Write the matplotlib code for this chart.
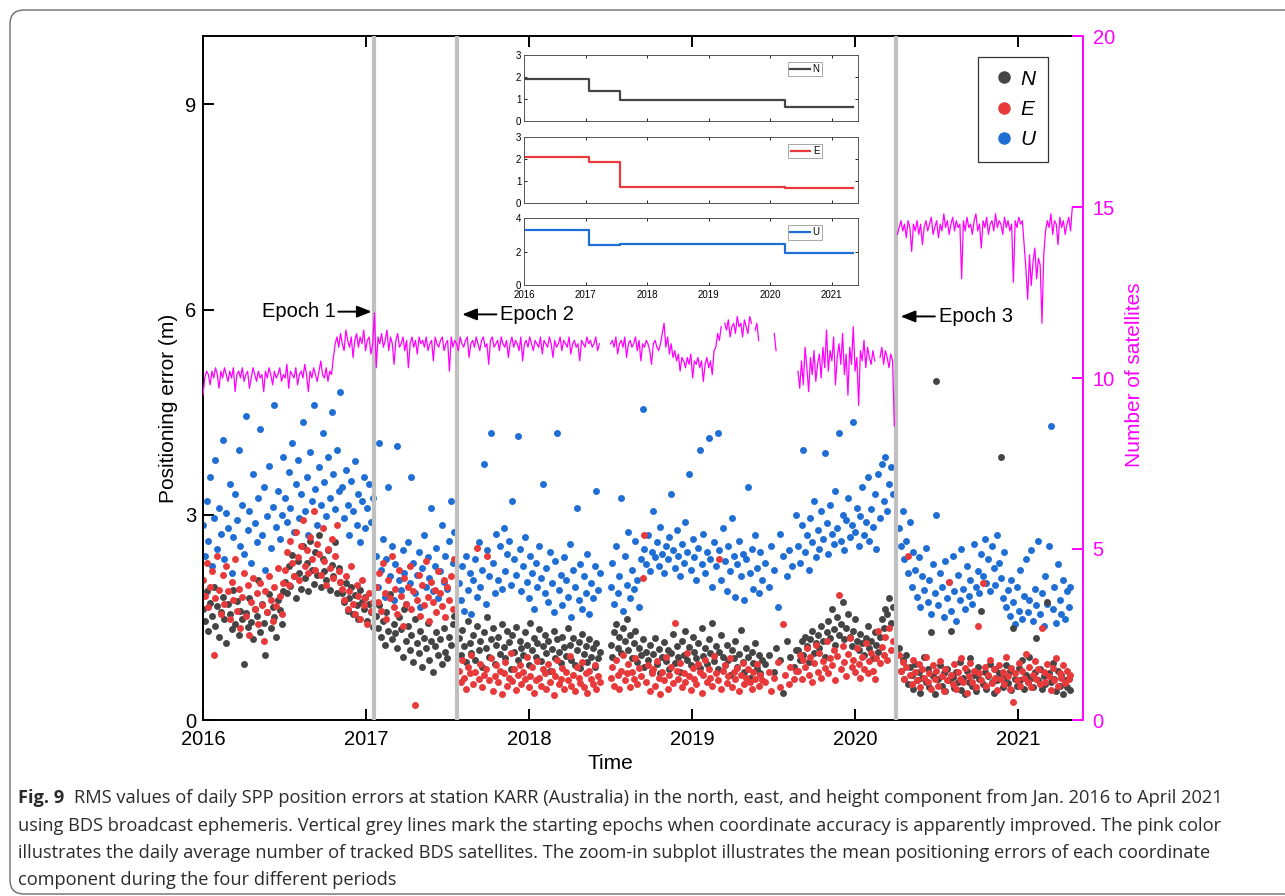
import numpy as np
import matplotlib
matplotlib.use("Agg")
import matplotlib.pyplot as plt
from matplotlib.lines import Line2D
from matplotlib.patches import FancyBboxPatch
from matplotlib.transforms import IdentityTransform

nan = np.nan
W, H = 1285, 896
STEP = 4 / 365.25  # one value every 4 days

# ---- daily RMS errors (m), one list per period ----
seg_starts = [2016.0, 2017.06, 2017.57, 2018.50, 2019.45, 2019.65, 2020.27]

n_segs = [
    [1.62, 1.45, 1.88, 1.30, 1.71, 1.52, 1.95, 1.38, 1.66, 1.21, 1.58, 1.80,
     1.47, 1.12, 1.69, 1.55, 1.33, 1.90, 1.41, 1.74, 1.25, 1.60, 1.48, 0.82,
     1.57, 1.36, 1.78, 1.44, 1.19, 1.63, 1.52, 2.05, 1.29, 1.70, 1.42, 0.95,
     1.58, 1.84, 1.35, 1.65, 1.50, 1.22, 1.76, 1.61, 1.40, 1.88,
     2.02, 1.85, 2.25, 1.96, 2.41, 2.10, 1.78, 2.33, 2.15, 1.92, 2.55, 2.08,
     2.30, 1.88, 2.62, 2.20, 1.99, 2.45, 2.12, 2.71, 1.95, 2.36, 2.18, 2.05,
     2.48, 1.90, 2.27, 2.10, 2.60, 1.86, 2.22, 2.02,
     1.85, 1.72, 2.01, 1.60, 1.79, 1.94, 1.55, 1.83, 1.68, 1.48, 1.90, 1.73,
     1.62, 1.80, 1.45, 1.70, 1.58, 1.36],
    [1.52, 1.35, 1.68, 1.22, 1.45, 1.10, 1.58, 1.30, 1.84, 1.18, 1.40, 1.27,
     1.05, 1.50, 1.33, 0.92, 1.62, 1.15, 1.38, 1.02, 1.25, 0.85, 1.47, 1.12,
     0.98, 1.30, 0.78, 1.20, 1.05, 1.42, 0.88, 1.15, 0.70, 1.08, 1.28, 0.95,
     1.18, 0.82, 1.35, 1.00, 0.90, 1.22, 1.10, 1.40, 1.52],
    [1.20, 0.95, 1.32, 1.08, 0.85, 1.45, 1.12, 0.98, 1.25, 0.88, 1.38, 1.02,
     1.15, 0.78, 1.28, 1.05, 1.50, 0.92, 1.18, 1.35, 0.82, 1.10, 1.22, 0.97,
     1.40, 1.06, 0.90, 1.30, 1.14, 0.75, 1.24, 1.00, 1.36, 0.88, 1.16, 1.05,
     0.95, 1.28, 1.10, 0.80, 1.42, 1.02, 1.20, 0.92, 1.12, 1.33, 0.86, 1.08,
     1.25, 0.98, 1.15, 0.72, 1.04, 1.30, 0.90, 1.18, 1.00, 0.84, 1.22, 1.06,
     0.94, 1.35, 1.10, 0.88, 1.20, 0.80, 1.02, 1.14, 0.76, 1.26, 0.96, 1.08,
     0.85, 1.18, 0.92, 1.05, 0.78, 1.12, 0.90, 1.00],
    [1.10, 0.92, 1.28, 1.40, 1.05, 1.22, 0.98, 1.35, 1.15, 1.48, 1.02, 1.25,
     0.90, 1.12, 1.30, 0.85, 1.05, 0.95, 1.18, 0.78, 1.00, 0.88, 1.10, 0.72,
     0.96, 1.20, 0.82, 1.04, 0.68, 0.92, 1.14, 0.86, 1.02, 0.75, 0.98, 1.26,
     0.84, 1.08, 0.92, 0.70, 1.15, 0.95, 1.30, 0.88, 1.06, 0.80, 1.22, 1.00,
     0.90, 1.12, 0.76, 1.35, 0.94, 1.05, 0.82, 1.18, 0.98, 1.42, 0.86, 1.08,
     0.74, 1.00, 1.25, 0.92, 0.80, 1.10, 0.88, 0.66, 1.02, 0.90, 1.16, 0.78,
     0.96, 1.32, 0.85, 0.70, 1.05, 0.92, 0.62, 1.00, 0.84, 1.12, 0.76, 0.95,
     0.68, 0.88],
    [0.82, nan, 0.95, nan, nan, 0.70, 1.05, nan, 0.88, nan, 0.40, nan,
     1.15, nan, 0.92, nan, 0.78, 1.02],
    [1.02, 0.88, 1.15, 0.95, 1.22, 1.08, 0.85, 1.18, 1.30, 0.98, 1.12, 1.25,
     1.05, 1.38, 1.15, 0.92, 1.28, 1.45, 1.20, 1.62, 1.33, 1.10, 1.50, 1.25,
     1.40, 1.72, 1.18, 1.35, 1.55, 1.22, 1.08, 1.30, 1.48, 1.15, 1.02, 1.26,
     1.12, 0.95, 1.20, 1.38, 1.05, 1.15, 0.90, 1.28, 1.10, 1.00, 1.22, 1.48,
     1.35, 1.62, 1.55, 1.78, 1.42, 1.65],
    [1.05, 0.72, 0.88, 0.60, 0.95, 0.52, 0.78, 0.66, 0.45, 0.82, 0.58, 0.70,
     0.40, 0.62, 0.92, 0.55, 0.74, 0.48, 1.28, 0.65, 0.38, 4.95, 0.60, 0.80,
     0.50, 0.68, 0.42, 0.75, 0.58, 1.30, 0.63, 0.47, 0.70, 0.55, 0.85, 0.44,
     0.62, 0.38, 0.72, 0.56, 0.90, 0.50, 0.66, 0.42, 0.78, 0.60, 1.60, 0.52,
     0.70, 0.46, 0.64, 0.82, 0.55, 0.40, 0.74, 0.58, 0.68, 3.85, 0.48, 0.62,
     0.80, 0.54, 0.72, 0.44, 1.35, 0.60, 0.50, 0.76, 0.58, 0.88, 0.46, 0.66,
     0.55, 0.92, 0.62, 0.48, 0.70, 1.20, 0.58, 0.74, 0.45, 0.64, 0.52, 1.72,
     0.68, 0.56, 0.84, 0.60, 0.42, 0.72, 0.50, 0.66, 0.38, 0.58, 0.48, 0.62,
     0.44],
]

e_segs = [
    [2.05, 1.82, 2.30, 1.65, 1.95, 2.18, 0.95, 1.78, 2.40, 1.90, 1.55, 2.12,
     1.70, 2.25, 1.88, 1.48, 2.02, 1.75, 2.35, 1.60, 1.92, 1.35, 1.80, 2.15,
     1.52, 1.98, 1.25, 1.72, 2.08, 1.62, 1.85, 1.40, 2.00, 1.68, 1.15, 1.88,
     1.58, 2.10, 1.76, 1.45, 1.95, 1.66, 2.22, 1.82, 1.55, 2.00,
     2.20, 2.45, 1.98, 2.62, 2.30, 2.10, 2.75, 2.38, 2.05, 2.55, 2.92, 2.25,
     2.48, 2.15, 2.68, 2.35, 3.05, 2.20, 2.58, 2.42, 2.12, 2.80, 2.32, 1.98,
     2.50, 2.22, 2.65, 2.08, 2.40, 2.85, 2.18, 2.02,
     1.92, 1.75, 2.10, 1.62, 1.88, 2.25, 1.70, 1.55, 1.98, 1.82, 1.48, 2.05,
     1.68, 1.78, 1.40, 1.85, 1.60, 1.72],
    [1.95, 1.72, 2.15, 1.60, 2.30, 1.85, 1.48, 2.05, 1.78, 2.40, 1.65, 1.92,
     1.55, 2.20, 1.82, 1.38, 2.08, 1.70, 1.95, 2.25, 1.62, 1.88, 0.22, 1.75,
     2.12, 1.52, 1.98, 1.68, 2.32, 1.80, 1.45, 2.02, 1.72, 1.90, 1.58, 2.18,
     1.85, 1.66, 2.05, 1.50, 1.95, 1.75, 2.10, 1.62, 2.35],
    [0.72, 0.55, 0.88, 0.62, 0.45, 0.78, 0.68, 0.95, 0.52, 0.70, 2.52, 0.60,
     0.82, 0.48, 0.66, 0.75, 2.40, 0.58, 0.90, 0.42, 0.64, 0.80, 0.55, 0.72,
     0.38, 0.68, 0.85, 0.50, 0.62, 0.98, 0.57, 0.74, 0.44, 0.66, 0.80, 0.52,
     0.70, 0.60, 0.92, 0.48, 0.65, 0.78, 0.40, 0.58, 0.86, 0.62, 0.50, 0.74,
     0.68, 0.45, 0.82, 0.56, 0.72, 0.36, 0.64, 0.88, 0.52, 0.60, 0.76, 0.46,
     0.70, 0.58, 0.94, 0.50, 0.66, 0.42, 0.78, 0.62, 0.54, 0.85, 0.48, 0.68,
     0.40, 0.72, 0.60, 0.52, 0.80, 0.45, 0.64, 0.56],
    [0.62, 0.78, 0.50, 0.88, 0.66, 0.45, 0.72, 0.95, 0.58, 0.68, 0.82, 0.48,
     0.70, 0.60, 0.90, 0.52, 0.76, 0.64, 2.08, 2.70, 0.55, 0.80, 0.42, 0.68,
     0.74, 0.50, 0.86, 0.62, 0.38, 0.70, 0.58, 0.92, 0.46, 0.66, 0.78, 0.54,
     1.42, 0.72, 0.60, 0.84, 0.48, 0.68, 0.56, 0.98, 0.64, 0.44, 0.76, 0.60,
     0.52, 0.82, 0.70, 0.40, 0.66, 0.88, 0.56, 0.74, 0.62, 0.50, 0.94, 0.68,
     0.58, 2.36, 0.46, 0.72, 0.80, 0.54, 0.64, 0.90, 0.48, 0.70, 0.60, 0.76,
     0.42, 0.66, 0.84, 0.52, 0.62, 0.74, 0.56, 0.45, 0.70, 0.60, 0.82, 0.50,
     0.66, 0.58],
    [0.55, nan, 0.70, 0.42, nan, 0.62, nan, 0.85, 0.48, nan, 1.40, 0.66,
     nan, 0.52, 0.78, nan, 0.60, 0.72],
    [0.72, 0.95, 0.60, 0.88, 0.78, 1.05, 0.66, 0.92, 0.55, 0.84, 1.10, 0.70,
     0.98, 0.62, 0.86, 0.76, 1.15, 0.68, 0.90, 0.80, 1.02, 0.58, 0.94, 1.83,
     0.74, 1.08, 0.85, 0.64, 0.96, 1.20, 0.78, 0.88, 0.70, 1.05, 0.82, 0.62,
     0.92, 0.75, 1.12, 0.68, 0.86, 0.98, 0.72, 0.60, 0.90, 1.30, 0.84, 1.06,
     0.95, 1.22, 0.88, 1.35, 1.02, 1.15],
    [0.95, 0.72, 0.85, 0.60, 0.78, 2.40, 0.66, 0.52, 0.88, 0.70, 0.58, 0.82,
     0.48, 0.75, 0.62, 0.92, 0.55, 0.68, 0.45, 0.80, 0.60, 0.72, 0.50, 0.86,
     0.64, 0.42, 0.74, 0.58, 2.02, 0.66, 0.52, 0.82, 0.46, 0.70, 0.60, 0.90,
     0.55, 0.76, 0.40, 0.64, 0.84, 0.56, 0.72, 0.48, 1.38, 0.68, 0.58, 2.00,
     0.78, 0.50, 0.66, 0.88, 0.54, 0.74, 0.62, 0.44, 0.80, 0.60, 0.70, 0.52,
     0.92, 0.64, 0.46, 0.76, 0.26, 0.68, 0.58, 0.84, 0.50, 0.72, 0.62, 0.96,
     0.55, 0.78, 0.48, 0.66, 0.86, 0.60, 0.74, 0.52, 1.35, 0.70, 0.56, 0.82,
     0.64, 0.44, 0.76, 0.58, 0.90, 0.50, 0.68, 0.62, 0.80, 0.54, 0.72, 0.60,
     0.66],
]

u_segs = [
    [2.85, 2.40, 3.20, 2.62, 3.55, 2.25, 2.95, 3.80, 2.50, 3.10, 2.72, 4.10,
     2.35, 3.02, 2.80, 3.45, 2.15, 2.68, 3.30, 2.92, 3.95, 2.55, 3.15, 2.42,
     4.45, 2.78, 3.05, 2.30, 3.60, 2.88, 2.60, 3.25, 4.25, 2.70, 3.40, 2.20,
     2.98, 3.72, 2.52, 3.12, 4.60, 2.82, 3.35, 2.65, 3.00, 3.85,
     3.25, 2.90, 3.62, 3.10, 4.05, 2.75, 3.45, 3.80, 2.95, 3.30, 4.35, 3.05,
     3.55, 2.70, 3.92, 3.20, 4.60, 3.38, 2.85, 3.70, 3.15, 4.20, 3.48, 2.98,
     3.85, 3.25, 4.50, 3.60, 3.08, 3.95, 3.35, 4.80,
     3.40, 2.95, 3.65, 3.15, 2.70, 3.50, 3.05, 3.78, 2.85, 3.30, 2.60, 3.20,
     3.55, 2.80, 3.10, 3.45, 2.90, 3.25],
    [2.40, 1.95, 4.05, 2.20, 2.65, 1.80, 2.35, 3.40, 2.10, 2.55, 1.75, 2.28,
     4.00, 2.05, 1.90, 2.48, 2.15, 1.70, 2.60, 2.00, 3.55, 2.30, 1.85, 2.12,
     2.45, 1.65, 2.22, 2.70, 1.95, 2.38, 2.08, 3.10, 1.88, 2.25, 2.52, 1.78,
     2.18, 2.85, 2.02, 2.40, 1.92, 2.62, 3.20, 2.30, 2.75],
    [2.00, 1.75, 2.25, 1.60, 2.40, 1.90, 2.15, 1.55, 2.05, 2.35, 1.80, 2.60,
     1.95, 2.20, 3.75, 1.70, 2.48, 2.10, 4.20, 2.30, 1.85, 2.72, 2.05, 2.55,
     1.92, 2.80, 2.18, 2.42, 2.62, 1.98, 3.20, 2.35, 2.12, 4.15, 2.50, 1.88,
     2.25, 2.68, 2.02, 1.78, 2.40, 2.15, 1.62, 2.30, 1.95, 2.55, 2.08, 3.45,
     1.85, 2.22, 1.72, 2.45, 2.00, 1.58, 2.32, 4.20, 1.90, 2.12, 1.68, 2.38,
     2.05, 1.80, 2.58, 1.50, 2.20, 1.95, 3.10, 1.75, 2.28, 1.62, 2.10, 1.85,
     2.42, 1.55, 2.00, 1.78, 2.25, 3.35, 1.90, 2.15],
    [1.95, 2.30, 1.70, 2.55, 1.85, 2.10, 3.25, 1.60, 2.40, 1.98, 2.75, 1.78,
     2.20, 1.92, 2.62, 2.05, 1.65, 2.35, 4.55, 2.50, 2.28, 2.70, 2.18, 2.45,
     3.05, 2.38, 2.60, 2.25, 2.82, 2.42, 2.15, 2.55, 2.35, 2.68, 3.30, 2.48,
     2.22, 2.78, 2.40, 2.10, 2.58, 2.30, 2.90, 2.45, 3.60, 2.20, 2.65, 2.38,
     2.05, 2.52, 3.95, 2.28, 2.72, 2.15, 2.45, 4.12, 2.35, 1.95, 2.60, 2.25,
     4.20, 2.48, 2.05, 2.80, 2.32, 1.88, 2.55, 2.18, 2.95, 2.40, 1.80, 2.28,
     2.62, 2.10, 2.42, 1.75, 2.35, 3.40, 2.15, 2.50, 1.92, 2.70, 2.22, 1.85,
     2.45, 2.05],
    [2.30, nan, 1.95, 2.55, nan, 2.20, nan, 1.65, 2.72, nan, 2.40, nan,
     2.10, 2.48, nan, 2.25, nan, 3.00],
    [2.55, 2.30, 2.85, 3.95, 2.45, 2.70, 2.20, 2.95, 2.60, 3.20, 2.38, 2.78,
     2.50, 3.05, 2.65, 3.90, 2.88, 2.42, 3.15, 2.72, 2.58, 3.35, 2.80, 4.20,
     2.62, 3.00, 2.48, 2.92, 3.25, 2.68, 2.85, 4.35, 2.75, 3.10, 2.55, 2.98,
     3.40, 2.70, 2.90, 3.55, 2.62, 3.08, 2.82, 3.30, 2.50, 3.60, 2.95, 3.75,
     3.20, 3.85, 3.05, 3.45, 3.70, 3.30],
    [2.80, 2.55, 3.05, 2.35, 2.62, 2.15, 2.90, 1.95, 2.45, 2.20, 1.80, 2.38,
     1.65, 2.10, 1.90, 2.52, 1.72, 2.05, 1.55, 2.28, 1.85, 3.00, 1.68, 2.15,
     1.95, 1.50, 2.32, 1.78, 2.02, 1.60, 2.40, 1.88, 1.45, 2.12, 1.75, 2.50,
     1.92, 1.62, 2.25, 1.82, 2.05, 1.70, 2.58, 1.95, 2.18, 1.85, 2.42, 2.10,
     2.65, 2.00, 2.35, 1.88, 2.55, 2.22, 1.98, 2.70, 2.30, 2.08, 1.78, 2.45,
     1.65, 1.90, 1.52, 2.05, 1.72, 1.40, 1.95, 1.60, 2.20, 1.48, 1.82, 2.35,
     1.58, 1.75, 2.48, 1.45, 1.92, 1.68, 2.62, 1.55, 1.85, 1.38, 2.10, 1.70,
     2.55, 4.30, 1.62, 1.95, 1.42, 2.28, 1.75, 1.55, 2.05, 1.48, 1.88, 1.65,
     1.95],
]

# ---- daily average number of tracked BDS satellites ----
sat_starts = [2016.0, 2016.80, 2018.50, 2019.45, 2019.65, 2020.26]
sat_segs = [
    [9.5, 10.0, 10.2, 10.1, 9.8, 10.2, 10.0, 10.3, 10.1, 9.7, 10.2, 10.0,
     10.3, 10.1, 9.9, 10.2, 10.0, 10.3, 9.6, 10.1, 10.2, 10.0, 10.3, 9.9,
     10.1, 10.2, 9.7, 10.0, 10.3, 10.1, 9.9, 10.2, 10.0, 10.1, 9.6, 10.2,
     10.0, 10.3, 10.1, 9.8, 10.2, 10.0, 10.1, 10.3, 9.9, 10.1, 10.0, 10.4,
     9.7, 10.2, 10.1, 10.0, 10.3, 9.8, 10.1, 10.2, 10.0, 10.4, 10.1, 9.6,
     10.2, 10.0, 10.3, 10.1, 9.9, 10.2, 10.5, 10.1, 10.0, 10.3, 9.9, 10.2,
     10.1],
    [10.6, 11.0, 11.2, 10.9, 11.3, 11.0, 10.8, 11.4, 11.1, 10.9, 11.2, 10.6,
     11.1, 11.3, 10.9, 11.2, 11.0, 11.4, 10.8, 11.1, 11.2, 10.7, 11.0, 11.9,
     10.3, 11.2, 11.0, 11.3, 10.9, 11.1, 11.4, 10.8, 11.2, 11.0, 10.4, 11.1,
     11.3, 10.9, 11.0, 11.2, 10.8, 11.1, 10.3, 11.0, 11.2, 10.9, 11.1, 10.7,
     11.2, 11.0, 11.1, 10.9, 11.2, 10.8, 11.0, 11.1, 10.5, 11.2, 11.0, 10.9,
     11.1, 11.2, 10.8, 11.0, 11.1, 10.2, 11.2, 10.9, 11.1, 11.0, 10.8, 11.2,
     11.0, 10.9, 11.1, 11.2, 10.6, 11.0, 11.1, 10.9, 11.2, 11.0, 10.8, 11.1,
     11.2, 10.9, 11.0, 10.4, 11.1, 11.2, 10.9, 11.0, 11.1, 10.8, 11.2, 11.0,
     10.9, 11.1, 10.6, 11.0, 11.2, 10.9, 11.1, 11.0, 10.8, 11.2, 10.5, 11.0,
     11.1, 10.9, 11.2, 11.0, 10.8, 11.1, 11.0, 10.9, 11.2, 10.7, 11.1, 11.0,
     10.9, 11.2, 11.0, 10.6, 11.1, 10.9, 11.0, 11.2, 10.8, 11.1, 11.0, 10.9,
     11.2, 10.7, 11.0, 11.1, 10.9, 11.0, 10.5, 11.1, 11.0, 10.9, 11.2, 11.0,
     11.1, 10.9, 11.0, 11.2, 10.8, 11.0, nan],
    [11.0, 11.1, 10.9, 11.2, 10.7, 11.0, 11.1, 10.9, 11.2, 10.6, 11.0, 11.1,
     10.9, 11.0, 11.2, 10.8, 11.1, 10.5, 11.0, 10.9, 11.1, 11.0, 10.8, 10.4,
     11.0, 11.1, 10.9, 10.8, 11.0,
     11.3, 11.6, 10.9, 11.2, 10.7, 11.0, 10.6, 10.8, 10.5, 10.7, 10.2, 10.6,
     10.5, 10.3, 10.6, 10.4, 10.7, 10.0, 10.5, 10.4, 10.6, 10.3, 10.5, 9.9,
     10.4, 10.6, 10.3, 10.5, 10.1, 10.8,
     10.9, 11.3, 11.1, 11.5, nan, 11.6, 11.4, 11.7, 11.2, 11.5, 11.6, 11.3,
     11.8, 11.5, 11.6, 11.2, 11.7, 11.5, 11.3, 11.8, 11.6, nan, 11.4, 11.6,
     11.1, nan, nan, 11.2],
    [nan, nan, nan, nan, nan, 11.3, 10.8, nan, nan, nan, nan, nan,
     10.6, nan, nan, nan, nan, nan],
    [10.2, 9.7, 10.5, 9.8, 10.9, 10.3, 9.6, 10.6, 10.1, 10.8, 9.9, 10.4,
     10.7, 10.0, 10.9, 10.3, 11.4, 10.2, 10.8, 10.5, 11.2, 9.8, 10.6, 11.0,
     10.4, 11.3, 10.1, 10.7, 9.5, 10.9, 10.4, 11.5, 10.2, 10.6, 9.2, 10.8,
     10.5, 11.1, 10.3, 10.9, 10.6, 10.4, 10.8, 10.5, nan, nan, 10.6, 10.9,
     10.4, 10.8, 10.6, 10.3, 10.7, 10.5, 8.6, nan],
    [14.2, 14.4, 14.6, 14.3, 14.5, 14.1, 14.6, 14.4, 13.7, 14.5, 14.3, 14.6,
     14.2, 14.5, 13.9, 14.4, 14.6, 14.3, 14.5, 14.7, 14.2, 14.4, 14.6, 14.1,
     14.5, 14.3, 14.8, 14.4, 14.6, 14.2, 14.5, 14.7, 14.3, 14.6, 14.4, 14.5,
     12.9, 14.6, 14.3, 14.7, 14.4, 14.5, 14.2, 14.6, 14.8, 14.3, 14.5, 13.8,
     14.6, 14.4, 14.7, 14.2, 14.5, 14.6, 14.3, 14.8, 14.4, 14.6, 14.5, 14.2,
     14.7, 14.4, 14.6, 14.3, 14.5, 12.8, 14.6, 14.4, 14.7, 14.5, 14.6, 13.9,
     13.2, 12.3, 13.6, 12.7, 13.4, 13.8, 12.9, 13.5, 13.3, 11.6, 13.6, 14.3,
     14.6, 14.4, 14.8, 14.2, 14.6, 14.5, 13.9, 14.7, 14.4, 14.6, 14.2, 14.5,
     14.7, 14.3, 15.0, 15.0],
]

# epochs and mean errors per period (zoom-in subplot)
epochs = [2017.05, 2017.56, 2020.25]
epoch_names = ["Epoch 1", "Epoch 2", "Epoch 3"]
period_edges = [2016.0, 2017.05, 2017.56, 2020.25, 2021.35]
mean_n = [1.90, 1.36, 0.95, 0.65, 0.65]
mean_e = [2.08, 1.85, 0.73, 0.70, 0.70]
mean_u = [3.30, 2.40, 2.46, 1.92, 1.92]

years = [2016, 2017, 2018, 2019, 2020, 2021]

C_N, C_E, C_U = "#454545", "#e8393b", "#1f6ed4"
PINK = "#ff00ff"


def daily(starts, segs):
    xs, ys = [], []
    for s, vals in zip(starts, segs):
        xs.append(s + STEP * np.arange(len(vals)))
        ys.append(np.asarray(vals, dtype=float))
    return np.concatenate(xs), np.concatenate(ys)


def fx(x):
    return x / W


def fy(y):
    return 1 - y / H


plt.rcParams["font.family"] = ["Liberation Sans", "DejaVu Sans"]

fig = plt.figure(figsize=(W / 100, H / 100), dpi=100)

# caption frame
frame = FancyBboxPatch((10, 2), 1310, 884, boxstyle="round,pad=0,rounding_size=14",
                       transform=IdentityTransform(), facecolor="none",
                       edgecolor="#6b6b6b", linewidth=1.0)
fig.patches.append(frame)

ax = fig.add_axes([fx(203), fy(720), (1083 - 203) / W, (720 - 36) / H])
x_end = 2016 + (1083 - 203) / 163.0
ax.set_xlim(2016, x_end)
ax.set_ylim(0, 10)

xu, yu = daily(seg_starts, u_segs)
xn, yn = daily(seg_starts, n_segs)
xe, ye = daily(seg_starts, e_segs)
ax.scatter(xu, yu, s=25, color=C_U, linewidths=0, zorder=2)
ax.scatter(xn, yn, s=25, color=C_N, linewidths=0, zorder=2)
ax.scatter(xe, ye, s=25, color=C_E, linewidths=0, zorder=2)

for e in epochs:
    ax.axvline(e, color="#c0c0c0", lw=3.0, zorder=4)

ax.set_xticks(years)
ax.set_yticks([0, 3, 6, 9])
ax.tick_params(direction="in", length=8, width=1.4, top=True, right=True,
               labelsize=14.5, colors="black")
ax.tick_params(axis="x", pad=7)
ax.tick_params(axis="y", pad=5)
box_end = 2016 + (1073 - 203) / 163.0
for side in ("top", "bottom"):
    ax.spines[side].set_linewidth(1.4)
    ax.spines[side].set_bounds(2016, box_end)
ax.spines["left"].set_linewidth(1.4)
ax.spines["right"].set_visible(False)

# epoch markers
epoch_y = [5.97, 5.93, 5.90]
arrow_kw = dict(arrowstyle="-|>,head_length=0.55,head_width=0.22", color="black",
                lw=1.4, mutation_scale=16, shrinkA=0, shrinkB=0)
ax.annotate("", xy=(epochs[0] - 0.015, epoch_y[0]), xytext=(epochs[0] - 0.22, epoch_y[0]),
            arrowprops=arrow_kw, zorder=6)
ax.text(epochs[0] - 0.235, epoch_y[0], epoch_names[0], ha="right", va="center", fontsize=14.5)
for i in (1, 2):
    ax.annotate("", xy=(epochs[i] + 0.03, epoch_y[i]), xytext=(epochs[i] + 0.24, epoch_y[i]),
                arrowprops=arrow_kw, zorder=6)
    ax.text(epochs[i] + 0.265, epoch_y[i], epoch_names[i], ha="left", va="center",
            fontsize=14.5)

# satellites on the right axis
ax2 = ax.twinx()
xs, ys = daily(sat_starts, sat_segs)
ax2.plot(xs, ys, color=PINK, lw=0.9, zorder=3)
ax2.set_ylim(0, 20)
ax2.set_yticks([0, 5, 10, 15, 20])
ax2.tick_params(axis="y", direction="in", length=8, width=1.4, colors=PINK,
                labelsize=14.5, pad=7)
for side in ("top", "bottom", "left"):
    ax2.spines[side].set_visible(False)
ax2.spines["right"].set_color(PINK)
ax2.spines["right"].set_linewidth(1.4)

fig.text(fx(169), fy(408), "Positioning error (m)", rotation=90, ha="center",
         va="center", fontsize=15)
fig.text(fx(1134), fy(375), "Number of satellites", rotation=90, ha="center",
         va="center", fontsize=15, color=PINK)
fig.text(fx(610), fy(763), "Time", ha="center", va="center", fontsize=15)

handles = [Line2D([], [], ls="", marker="o", markersize=8, color=c) for c in (C_N, C_E, C_U)]
leg = ax2.legend(handles, ["N", "E", "U"], loc="upper right",
                 bbox_to_anchor=((1048 - 203) / 880, (720 - 57) / 684),
                 borderaxespad=0, prop={"style": "italic", "size": 15},
                 fancybox=False, framealpha=1, edgecolor="#333333",
                 labelspacing=0.55, borderpad=0.6, handletextpad=0.15,
                 handlelength=1.3)
leg.get_frame().set_linewidth(0.9)

# zoom-in subplot: mean errors per period
panels = [(55, 121, mean_n, C_N, "N", [0, 1, 2, 3], 3),
          (137, 203, mean_e, C_E, "E", [0, 1, 2, 3], 3),
          (218, 285, mean_u, C_U, "U", [0, 2, 4], 4)]
for k, (top, bot, vals, col, lab, yt, ymax) in enumerate(panels):
    iax = fig.add_axes([fx(524), fy(bot), (858 - 524) / W, (bot - top) / H])
    iax.step(period_edges, vals, where="post", color=col, lw=1.6, label=lab)
    iax.set_xlim(2016, 2021.43)
    iax.set_ylim(0, ymax)
    iax.set_yticks(yt)
    iax.set_xticks(years)
    iax.tick_params(direction="in", length=2.5, width=0.6, top=True, right=True,
                    labelsize=7, pad=2)
    iax.tick_params(axis="x", pad=3.5)
    if k < 2:
        iax.set_xticklabels([])
    for sp in iax.spines.values():
        sp.set_linewidth(0.7)
        sp.set_color("#555555")
    il = iax.legend(loc="upper right", bbox_to_anchor=(0.892, 0.90), borderaxespad=0,
                    fontsize=7, fancybox=False, framealpha=1, edgecolor="#999999",
                    handlelength=2.0, handletextpad=0.3, borderpad=0.25)
    il.get_frame().set_linewidth(0.6)

# caption
cap_bold = "Fig. 9"
cap_lines = [
    "RMS values of daily SPP position errors at station KARR (Australia) in the north, east, "
    "and height component from Jan. 2016 to April 2021",
    "using BDS broadcast ephemeris. Vertical grey lines mark the starting epochs when "
    "coordinate accuracy is apparently improved. The pink color",
    "illustrates the daily average number of tracked BDS satellites. The zoom-in subplot "
    "illustrates the mean positioning errors of each coordinate",
    "component during the four different periods",
]
cap_font = ["Open Sans", "DejaVu Sans"]
cap_col = "#2b2b2b"
fs = 11.0
x0, x1 = 18, 1228
ys_cap = [798, 825.5, 853, 880]
renderer = fig.canvas.get_renderer()
tb = fig.text(fx(x0), fy(ys_cap[0]), cap_bold, fontsize=fs, fontweight="bold",
              family=cap_font, color=cap_col, va="center", ha="left")
tr = fig.text(0, fy(ys_cap[0]), cap_lines[0], fontsize=fs, family=cap_font,
              color=cap_col, va="center", ha="left")
wb = tb.get_window_extent(renderer).width
wr = tr.get_window_extent(renderer).width
scale = (x1 - x0) / (wb + 0.75 * fs + wr)
fs *= scale
tb.set_fontsize(fs)
tr.set_fontsize(fs)
wb = tb.get_window_extent(renderer).width
tr.set_x(fx(x0 + wb + 0.75 * fs))
for line, yy in zip(cap_lines[1:], ys_cap[1:]):
    fig.text(fx(x0), fy(yy), line, fontsize=fs, family=cap_font, color=cap_col,
             va="center", ha="left")

fig.savefig("out.png", dpi=100)
